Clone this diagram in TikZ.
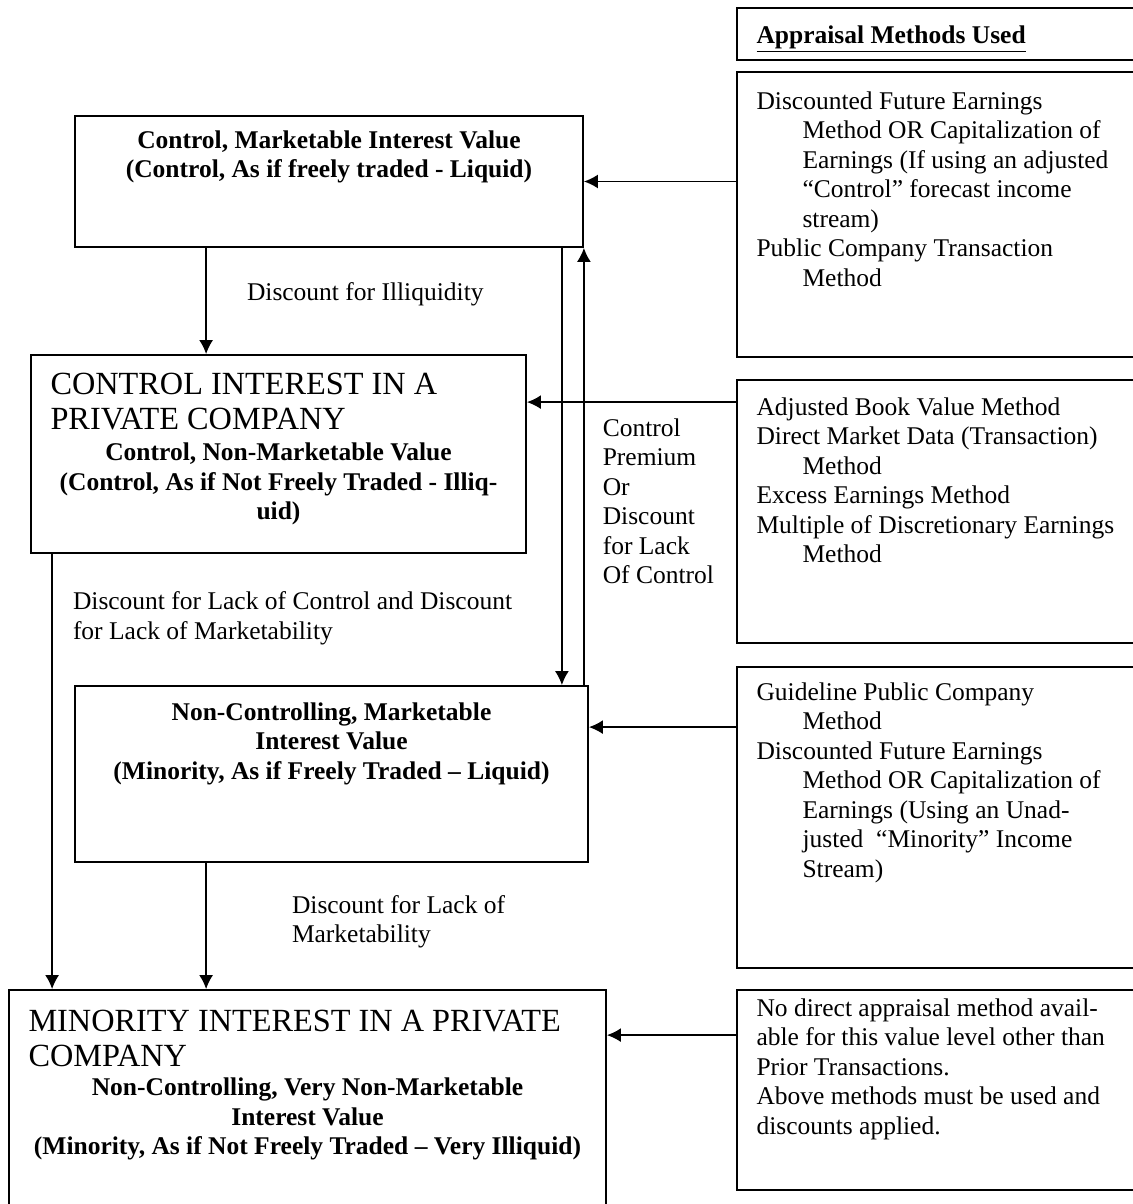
\documentclass[tikz,border=0pt]{standalone}
\usepackage{fontspec}
\setmainfont{Liberation Serif}
\usetikzlibrary{positioning,fit,arrows.meta}

\begin{document}
\begin{tikzpicture}[
        x=0.5pt, y=-0.5pt,
        % define styles
        every node/.style={
            inner sep=0pt,
            font=\fontsize{12.75}{14.75}\selectfont
        },
        frame/.style={
            draw,
            line width=0.9pt
        },
        caps/.style={
            font=\fontsize{16.15}{17.5}\selectfont,
            align=left
        },
        title/.style={
            font=\fontsize{12.75}{14.75}\selectfont\bfseries,
            align=center
        },
        note/.style={
            align=left
        },
        link/.style={
            ->,
            line width=0.9pt
        },
        >={Latex[length=7pt,width=7pt]}
    ]
    \useasboundingbox (0,0) rectangle (1133,1204);

    % frames of the value levels (left) and of the methods (right)
    \foreach \bx/\xa/\ya/\xb/\yb in {
        cmv/75/116/583/247, cnm/31/355/526/553,
        nmv/75/686/588/862, mpc/9/990/606/1215,
        hdr/737/8/1145/60, mB/737/72/1145/357, mC/737/380/1145/643,
        mD/737/667/1145/968, mE/737/990/1145/1190}
    \node[frame, fit={(\xa,\ya) (\xb,\yb)}] (\bx) {};

    % value level texts
    \node[title, below=7.5pt of cmv.north] (cmvText)
        {Control, Marketable Interest Value\\(Control, As if freely traded - Liquid)};
    \node[caps, below right=9.5pt and 10pt of cnm.north west] (cnmCaps)
        {CONTROL INTEREST IN A\\PRIVATE COMPANY};
    \node[title, anchor=north, yshift=-6pt] (cnmText) at (cnmCaps.south -| cnm.north)
        {Control, Non-Marketable Value\\(Control, As if Not Freely Traded - Illiq-\\uid)};
    \node[title, below=8.5pt of nmv.north] (nmvText)
        {Non-Controlling, Marketable\\Interest Value\\(Minority, As if Freely Traded – Liquid)};
    \node[caps, below right=10.5pt and 10pt of mpc.north west] (mpcCaps)
        {MINORITY INTEREST IN A PRIVATE\\COMPANY};
    \node[title, anchor=north, yshift=-5pt] (mpcText) at (mpcCaps.south -| mpc.north)
        {Non-Controlling, Very Non-Marketable\\Interest Value\\(Minority, As if Not Freely Traded – Very Illiquid)};

    % appraisal methods texts
    \node[note, font=\fontsize{12.75}{14.75}\selectfont\bfseries,
        below right=9pt and 10pt of hdr.north west] (hdrText)
        {\underline{Appraisal Methods Used}};
    \node[note, below right=10pt and 10pt of mB.north west] (mBText)
        {Discounted Future Earnings\\
        \hspace*{23pt}Method OR Capitalization of\\
        \hspace*{23pt}Earnings (If using an adjusted\\
        \hspace*{23pt}“Control” forecast income\\
        \hspace*{23pt}stream)\\
        Public Company Transaction\\
        \hspace*{23pt}Method};
    \node[note, below right=9pt and 10pt of mC.north west] (mCText)
        {Adjusted Book Value Method\\
        Direct Market Data (Transaction)\\
        \hspace*{23pt}Method\\
        Excess Earnings Method\\
        Multiple of Discretionary Earnings\\
        \hspace*{23pt}Method};
    \node[note, below right=8pt and 10pt of mD.north west] (mDText)
        {Guideline Public Company\\
        \hspace*{23pt}Method\\
        Discounted Future Earnings\\
        \hspace*{23pt}Method OR Capitalization of\\
        \hspace*{23pt}Earnings (Using an Unad-\\
        \hspace*{23pt}justed \ “Minority” Income\\
        \hspace*{23pt}Stream)};
    \node[note, below right=4.5pt and 10pt of mE.north west] (mEText)
        {No direct appraisal method avail-\\
        able for this value level other than\\
        Prior Transactions.\\
        Above methods must be used and\\
        discounts applied.};

    % arrows from the methods into the value levels
    \coordinate (inC) at ([yshift=-11.5pt]mC.north west);
    \coordinate (inD) at ([yshift=-30.5pt]mD.north west);
    \coordinate (inE) at ([yshift=-23pt]mE.north west);
    \draw[link] (mB.west |- cmv.east) -- (cmv.east);
    \draw[link] (inC) -- (inC -| cnm.east);
    \draw[link] (inD) -- (inD -| nmv.east);
    \draw[link] (inE) -- (inE -| mpc.east);

    % arrows between the value levels
    \coordinate (c1) at ([xshift=66pt]cmv.south west);
    \coordinate (c2) at ([xshift=-11pt]cmv.south east);
    \coordinate (c3) at ([xshift=11pt]cnm.south west);
    \coordinate (c4) at ([xshift=66pt]nmv.south west);
    \draw[link] (c1) -- node[note, pos=0.44, right=20pt] (illiq)
        {Discount for Illiquidity} (c1 |- cnm.north);
    \draw[link] (c2) -- (c2 |- nmv.north);
    \draw[link] (cmv.south east |- nmv.north) -- node[note, pos=0.42, right=9pt] (ctrl)
        {Control\\Premium\\Or\\Discount\\for Lack\\Of Control} (cmv.south east);
    \draw[link] (c3) -- node[note, pos=0.148, right=10pt] (lackBoth)
        {Discount for Lack of Control and Discount\\for Lack of Marketability} (c3 |- mpc.north);
    \draw[link] (c4) -- node[note, pos=0.465, right=42.5pt] (lackMkt)
        {Discount for Lack of\\Marketability} (c4 |- mpc.north);
\end{tikzpicture}
\end{document}
